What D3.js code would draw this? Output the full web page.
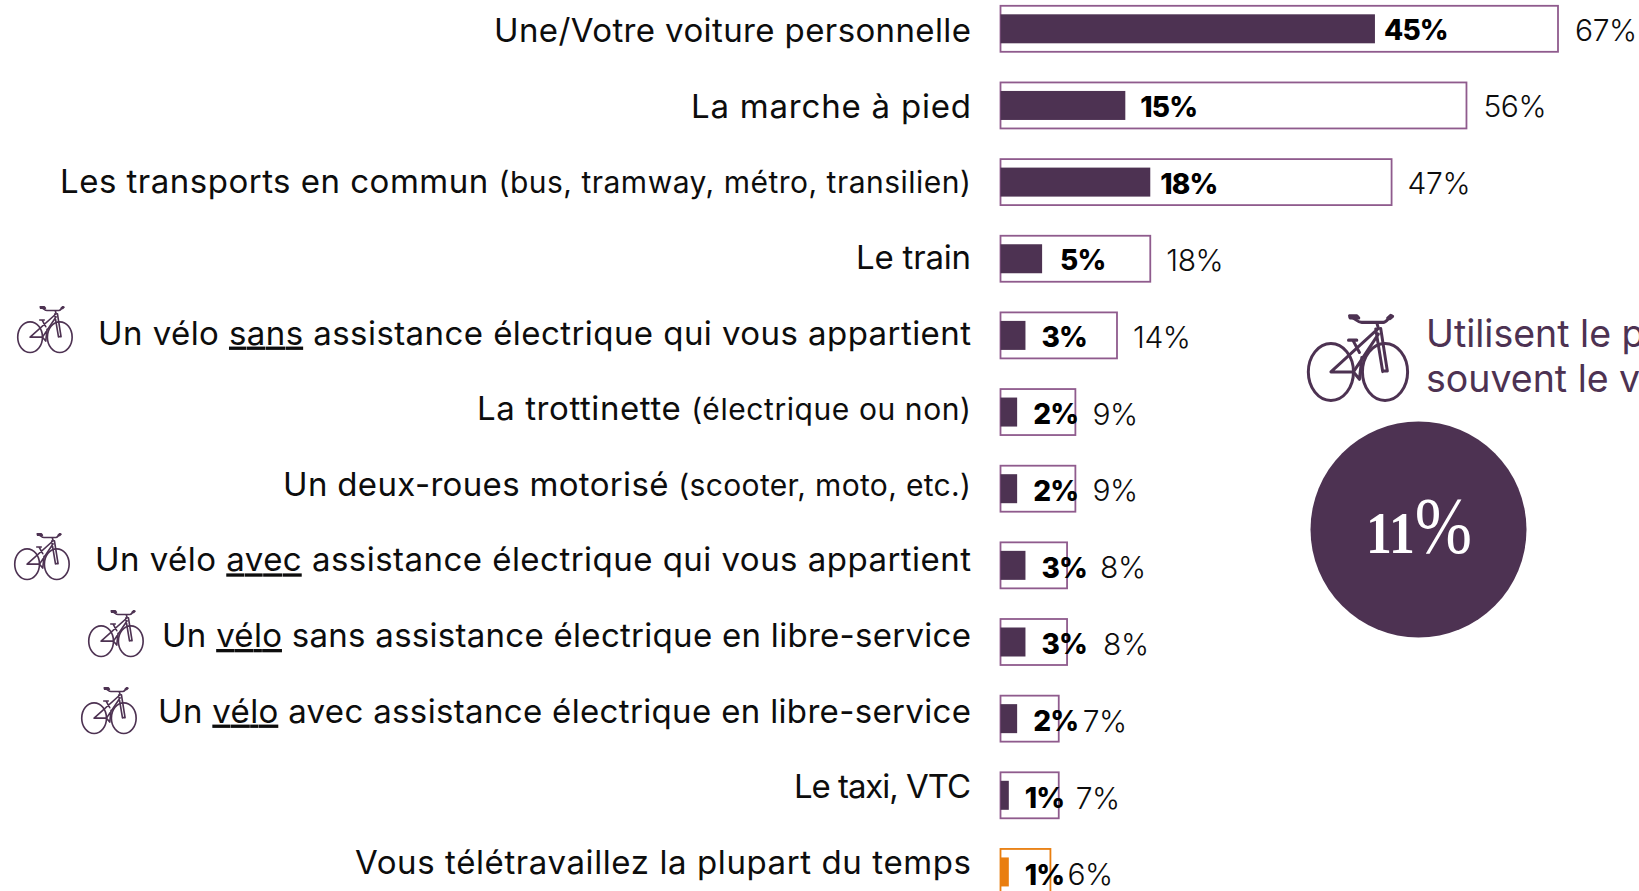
<!DOCTYPE html>
<html lang="fr"><head><meta charset="utf-8">
<script src="https://cdn.jsdelivr.net/npm/d3@7"></script>
<style>html,body{margin:0;padding:0;background:#fff;overflow:hidden}svg{display:block}</style>
</head><body><div id="chart"></div>
<script>
const categories=["Une/Votre voiture personnelle","La marche à pied","Les transports en commun (bus, tramway, métro, transilien)","Le train","Un vélo sans assistance électrique qui vous appartient","La trottinette (électrique ou non)","Un deux-roues motorisé (scooter, moto, etc.)","Un vélo avec assistance électrique qui vous appartient","Un vélo sans assistance électrique en libre-service","Un vélo avec assistance électrique en libre-service","Le taxi, VTC","Vous télétravaillez la plupart du temps"];
const totalValues=[67,56,47,18,14,9,9,8,8,7,7,6];
const mainValues=[45,15,18,5,3,2,2,3,3,2,1,1];
const labelSegments=[
 [["Une/Votre voiture personnelle"]],[["La marche à pied"]],
 [["Les transports en commun "],["(bus, tramway, métro, transilien)","s"]],[["Le train"]],
 [["Un vélo "],["sans","u"],[" assistance électrique qui vous appartient"]],
 [["La trottinette "],["(électrique ou non)","s"]],
 [["Un deux-roues motorisé "],["(scooter, moto, etc.)","s"]],
 [["Un vélo "],["avec","u"],[" assistance électrique qui vous appartient"]],
 [["Un "],["vélo","u"],[" sans assistance électrique en libre-service"]],
 [["Un "],["vélo","u"],[" avec assistance électrique en libre-service"]],
 [["Le taxi, VTC"]],[["Vous télétravaillez la plupart du temps"]]];
const labelWidths=[477,280,911,115,873,494,688,876,809,813,177,616];
const mainLabelGap=[9,15,10,18,16,16,16,16,16,16,16,16];
const totalLabelGap=[17,17,16,16,16,17,17,33,36,24,17,17];
const bikeRows=[[4,17,306],[7,14,533],[8,88,610],[9,81,687]];
const calloutLines=["Utilisent le plus","souvent le vélo"];
const calloutValue="11";
const C={plum:"#4d3252",edge:"#8f5b8d",orange:"#e97e0f",ink:"#0d0d0d"};
const FONT="Inter, 'Noto Sans', sans-serif";

const W=1639,H=891;
const svg=d3.select("#chart").append("svg").attr("width",W).attr("height",H).attr("viewBox",`0 0 ${W} ${H}`);
const x=d3.scaleLinear().domain([0,67]).range([1000.5,1558]);
const y=d3.scalePoint().domain(d3.range(categories.length)).range([28.8,28.8+11*76.65]);
const yLabel=d3.scalePoint().domain(d3.range(categories.length)).range([42.2,42.2+11*75.6]);
const yVal=d3.scalePoint().domain(d3.range(categories.length)).range([40,40+11*76.8]);
const colorOf=i=>i===11?C.orange:C.plum;

const rows=svg.append("g").selectAll("g").data(categories).join("g");
rows.append("rect").attr("x",x(0)).attr("y",(d,i)=>y(i)-23).attr("height",46)
 .attr("width",(d,i)=>x(totalValues[i])-x(0)).attr("fill","#fff")
 .attr("stroke",(d,i)=>i===11?C.orange:C.edge).attr("stroke-width",1.8);
rows.append("rect").attr("x",x(0)).attr("y",(d,i)=>y(i)-14.5).attr("height",29)
 .attr("width",(d,i)=>x(mainValues[i])-x(0)).attr("fill",(d,i)=>colorOf(i));
rows.append("text").attr("x",(d,i)=>x(mainValues[i])+mainLabelGap[i]).attr("y",(d,i)=>yVal(i))
 .attr("font-family",FONT).attr("font-weight",800).attr("font-size",28).attr("fill","#000")
 .attr("letter-spacing",-.8).text((d,i)=>mainValues[i]+"%");
rows.append("text").attr("x",(d,i)=>x(totalValues[i])+totalLabelGap[i]).attr("y",(d,i)=>yVal(i)+.5)
 .attr("font-family",FONT).attr("font-weight",300).attr("font-size",30).attr("letter-spacing",-.4).attr("fill",C.ink)
 .text((d,i)=>totalValues[i]+"%");
const lab=rows.append("text").attr("x",971).attr("y",(d,i)=>yLabel(i)).attr("text-anchor","end")
 .attr("font-family",FONT).attr("font-size",33).attr("font-weight",400).attr("fill",C.ink)
 .attr("textLength",(d,i)=>labelWidths[i]).attr("lengthAdjust","spacing");
lab.selectAll("tspan").data((d,i)=>labelSegments[i]).join("tspan").text(d=>d[0])
 .attr("font-size",d=>d[1]==="s"?30:null).attr("text-decoration",d=>d[1]==="u"?"underline":null);

// Bicycle glyph, in its own 307x263 drawing space
function bike(g){
 g.attr("fill","none").attr("stroke",C.plum).attr("stroke-width",9).attr("stroke-linecap","round").attr("stroke-linejoin","round");
 g.append("ellipse").attr("cx",72).attr("cy",173).attr("rx",68).attr("ry",85);
 g.append("ellipse").attr("cx",235).attr("cy",173).attr("rx",68).attr("ry",85);
 g.append("path").attr("d","M130 10C145 10 150 25 165 25H230C240 25 245 10 255 7M210 25L215 43L72 173H140L215 60M207 45L228 172M222 43L242 170H228M125 78H150M138 78L158 115M140 173L158 195L165 130");
 g.append("path").attr("fill",C.plum).attr("d","M128 5H150L156 12H130ZM243 12L252 4L258 7L250 14Z");
}
bikeRows.forEach(([r,bx,by])=>{
 const g=svg.append("g").attr("transform",`translate(${bx},${by}) scale(.182,.18)`);bike(g);
});
bike(svg.append("g").attr("transform","translate(1307,314) scale(.332,.335)"));

const callout=svg.append("g");
callout.selectAll("text").data(calloutLines).join("text").attr("x",1426).attr("y",(d,i)=>346.7+i*45)
 .attr("font-family",FONT).attr("font-size",37.5).attr("fill",C.plum).text(d=>d);
callout.append("circle").attr("cx",1418.5).attr("cy",529.5).attr("r",108).attr("fill",C.plum);
const big=callout.append("text").attr("x",1366).attr("y",553).attr("font-family","'Liberation Serif',serif").attr("fill","#fff")
 .attr("textLength",106).attr("lengthAdjust","spacingAndGlyphs");
big.append("tspan").attr("font-size",60).attr("font-weight",700).text(calloutValue);
big.append("tspan").attr("font-size",80).attr("font-weight",400).text("%");
</script></body></html>
